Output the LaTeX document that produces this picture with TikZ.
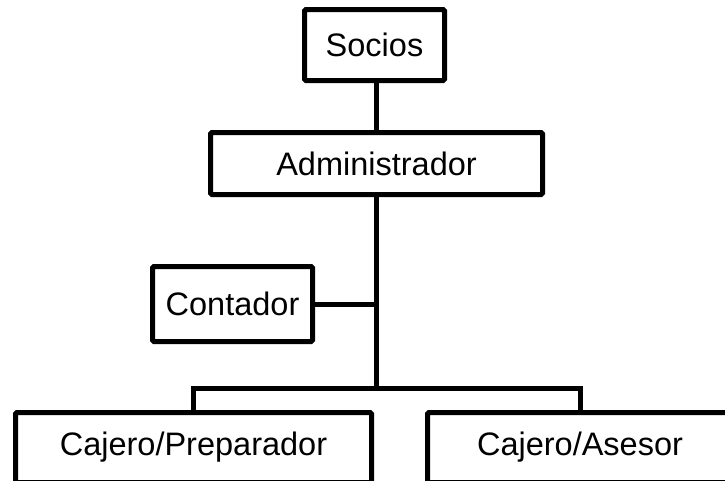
\documentclass[tikz,border=0pt]{standalone}
\usepackage{fontspec}
\setmainfont{Liberation Sans}
\begin{document}
\begin{tikzpicture}[x=1pt,y=-1pt,
  box/.style={draw=black,line width=5pt,fill=white,rounded corners=1.5pt,inner sep=0pt,outer sep=0pt,
    font=\fontsize{32.5}{38}\selectfont,text=black},
  link/.style={draw=black,line width=5pt}]
\clip (0,0) rectangle (725,480);
\useasboundingbox (0,0) rectangle (725,480);
\node[box,minimum width=140pt,minimum height=71pt] (soc) at (374.5,45) {Socios};
\node[box,minimum width=332pt,minimum height=62pt] (adm) at (376.5,163.5) {Administrador};
\node[box,minimum width=160pt,minimum height=75pt] (con) at (232.5,304) {Contador};
\node[box,minimum width=356pt,minimum height=70pt] (pre) at (193.5,447.5) {Cajero/Preparador};
\node[box,minimum width=305pt,minimum height=70pt] (ase) at (580,447.5) {Cajero/Asesor};
\coordinate (j) at (376,388);
\coordinate (c) at (376,304);
\draw[link] (soc.south -| j) -- (adm.north -| j);
\draw[link] (adm.south -| j) -- (j);
\draw[link] (con.east) -- (c);
\draw[link,line join=miter] (pre.north) |- (j) -| (ase.north);
\end{tikzpicture}
\end{document}
